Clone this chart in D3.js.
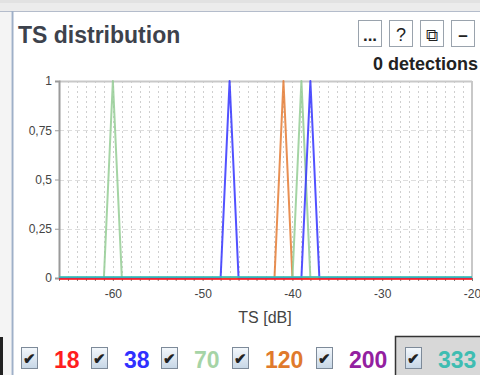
<!DOCTYPE html>
<html>
<head>
<meta charset="utf-8">
<script src="https://cdn.jsdelivr.net/npm/d3@7"></script>
<style>
  html, body { margin: 0; padding: 0; background: #fff; }
  svg { display: block; font-family: "Liberation Sans", Arial, sans-serif; }
</style>
</head>
<body>
<svg id="chart" width="480" height="375"></svg>
<script>
// TS bins (dB), one value per 1 dB step from -66 to -20
const tsBins = [-66,-65,-64,-63,-62,-61,-60,-59,-58,-57,-56,-55,-54,-53,-52,-51,-50,-49,-48,-47,-46,-45,-44,-43,-42,-41,-40,-39,-38,-37,-36,-35,-34,-33,-32,-31,-30,-29,-28,-27,-26,-25,-24,-23,-22,-21,-20];

// normalised distribution per frequency (kHz)
const s18  = [0,0,0,0,0,0,0,0,0,0,0,0,0,0,0,0,0,0,0,0,0,0,0,0,0,0,0,0,0,0,0,0,0,0,0,0,0,0,0,0,0,0,0,0,0,0,0];
const s38  = [0,0,0,0,0,0,0,0,0,0,0,0,0,0,0,0,0,0,0,1,0,0,0,0,0,0,0,0,1,0,0,0,0,0,0,0,0,0,0,0,0,0,0,0,0,0,0];
const s70  = [0,0,0,0,0,0,1,0,0,0,0,0,0,0,0,0,0,0,0,0,0,0,0,0,0,0,0,1,0,0,0,0,0,0,0,0,0,0,0,0,0,0,0,0,0,0,0];
const s120 = [0,0,0,0,0,0,0,0,0,0,0,0,0,0,0,0,0,0,0,0,0,0,0,0,0,1,0,0,0,0,0,0,0,0,0,0,0,0,0,0,0,0,0,0,0,0,0];
const s200 = [0,0,0,0,0,0,0,0,0,0,0,0,0,0,0,0,0,0,0,0,0,0,0,0,0,0,0,0,0,0,0,0,0,0,0,0,0,0,0,0,0,0,0,0,0,0,0];
const s333 = [0,0,0,0,0,0,0,0,0,0,0,0,0,0,0,0,0,0,0,0,0,0,0,0,0,0,0,0,0,0,0,0,0,0,0,0,0,0,0,0,0,0,0,0,0,0,0];

const freqLabels = ["18", "38", "70", "120", "200", "333"];
const yTicks = [0, 0.25, 0.5, 0.75, 1];
const xTicks = [-60, -50, -40, -30, -20];
const title = "TS distribution";
const countLabel = "0 detections";
const xTitle = "TS [dB]";

const seriesColors = ["#ff2020", "#3434ff", "#94cc94", "#e47b34", "#9a1fa0", "#38bfb4"];
const legendColors = ["#ff1e1e", "#3030ff", "#a6d4a6", "#e07a2c", "#9320a0", "#3fbdb2"];
const seriesList = [s18, s38, s70, s120, s200, s333];

const svg = d3.select("#chart");

// window chrome
svg.append("rect").attr("x", 0).attr("y", 0).attr("width", 480).attr("height", 11).attr("fill", "#ececec");
svg.append("rect").attr("x", 0).attr("y", 0).attr("width", 480).attr("height", 3).attr("fill", "#e2e2e2");
svg.append("line").attr("x1", 0).attr("x2", 480).attr("y1", 11.5).attr("y2", 11.5).attr("stroke", "#b4bccb");
svg.append("rect").attr("x", 0).attr("y", 12).attr("width", 11).attr("height", 363).attr("fill", "#f4f4f4");
svg.append("line").attr("x1", 12.5).attr("x2", 12.5).attr("y1", 11).attr("y2", 375).attr("stroke", "#9fb0c8").attr("stroke-width", 2);
svg.append("rect").attr("x", 0).attr("y", 337).attr("width", 3).attr("height", 38).attr("fill", "#222");

// title
svg.append("text").attr("x", 18).attr("y", 43).attr("font-size", 23).attr("font-weight", "bold")
  .attr("fill", "#3d424c").text(title);

// header buttons
const btnLabels = ["...", "?", "\u29C9", "\u2013"];
const btnX = [358, 389, 420, 451];
btnLabels.forEach((b, i) => {
  svg.append("rect").attr("x", btnX[i] + 0.5).attr("y", 20.5).attr("width", 23).attr("height", 26)
    .attr("fill", "#fff").attr("stroke", "#9aa3ad");
  svg.append("text").attr("x", btnX[i] + 12).attr("y", 41).attr("text-anchor", "middle")
    .attr("font-size", i === 1 ? 18 : 17).attr("font-weight", i === 0 || i === 3 ? "bold" : "normal")
    .attr("fill", "#222").text(b);
});

svg.append("text").attr("x", 373).attr("y", 70).attr("font-size", 18).attr("font-weight", "bold")
  .attr("fill", "#222").text(countLabel);

// plot area
const x = d3.scaleLinear().domain([-66, -20]).range([59, 472]);
const y = d3.scaleLinear().domain([0, 1]).range([278, 81]);

const grid = svg.append("g");
grid.selectAll("line.v").data(d3.range(-65, -20)).join("line")
  .attr("x1", d => Math.round(x(d)) + 0.5).attr("x2", d => Math.round(x(d)) + 0.5)
  .attr("y1", y(1)).attr("y2", y(0))
  .attr("stroke", "#cfcfcf").attr("stroke-dasharray", "2,3");
grid.selectAll("line.h").data([0.25, 0.5, 0.75]).join("line")
  .attr("x1", x(-66)).attr("x2", x(-20))
  .attr("y1", d => Math.round(y(d)) + 0.5).attr("y2", d => Math.round(y(d)) + 0.5)
  .attr("stroke", "#dedede").attr("stroke-dasharray", "5,3");

// frame
svg.append("line").attr("x1", x(-66)).attr("x2", x(-20)).attr("y1", y(1) + 0.5).attr("y2", y(1) + 0.5)
  .attr("stroke", "#c8c8c8").attr("stroke-width", 2);
svg.append("line").attr("x1", x(-20)).attr("x2", x(-20)).attr("y1", y(1)).attr("y2", y(0))
  .attr("stroke", "#c8c8c8").attr("stroke-width", 2);

// y axis
const yAxis = d3.axisLeft(y).tickValues(yTicks).tickSize(4).tickPadding(3)
  .tickFormat(d => String(d).replace(".", ","));
const yg = svg.append("g").attr("transform", `translate(${x(-66)},0)`).call(yAxis);
yg.select(".domain").attr("stroke", "#9a9a9a").attr("stroke-width", 2);
yg.selectAll(".tick line").attr("stroke", "#9a9a9a");
yg.selectAll(".tick text").attr("font-size", 12).attr("fill", "#444").attr("font-family", "Liberation Sans, Arial, sans-serif");

// x axis minor ticks every dB
const xMinor = d3.axisBottom(x).tickValues(tsBins).tickSize(3).tickFormat("");
const xm = svg.append("g").attr("transform", `translate(0,${y(0)})`).call(xMinor);
xm.select(".domain").remove();
xm.selectAll(".tick line").attr("stroke", "#777");

const xAxis = d3.axisBottom(x).tickValues(xTicks).tickSize(0).tickPadding(11)
  .tickFormat(d => String(d));
const xg = svg.append("g").attr("transform", `translate(0,${y(0)})`).call(xAxis);
xg.select(".domain").remove();
xg.selectAll(".tick text").attr("font-size", 12).attr("fill", "#444").attr("font-family", "Liberation Sans, Arial, sans-serif");

svg.append("text").attr("x", 265).attr("y", 323).attr("text-anchor", "middle")
  .attr("font-size", 16).attr("fill", "#444").text(xTitle);

// distribution lines
const line = d3.line().x((d, i) => x(tsBins[i])).y(d => y(d));
const drawOrder = [4, 3, 2, 1, 0, 5];
const baseShift = [1, 0, 0, 0, 0, -1];
drawOrder.forEach(k => {
  svg.append("path").datum(seriesList[k])
    .attr("d", line)
    .attr("transform", `translate(0,${baseShift[k]})`)
    .attr("fill", "none")
    .attr("stroke", seriesColors[k])
    .attr("stroke-width", 2)
    .attr("stroke-opacity", 0.85)
    .attr("stroke-linejoin", "round");
});

// legend
const legX = [21, 91, 161, 232, 316, 405];
svg.append("rect").attr("x", 395.5).attr("y", 336.5).attr("width", 90).attr("height", 45)
  .attr("fill", "#d8d8d8").attr("stroke", "#333").attr("stroke-width", 1.5);
const grad = svg.append("defs").append("linearGradient").attr("id", "cb").attr("x1", 0).attr("y1", 0).attr("x2", 0).attr("y2", 1);
grad.append("stop").attr("offset", 0).attr("stop-color", "#f4f8fc");
grad.append("stop").attr("offset", 1).attr("stop-color", "#c6d6e6");
freqLabels.forEach((lab, i) => {
  svg.append("rect").attr("x", legX[i] + 0.5).attr("y", 347.5).attr("width", 16).attr("height", 21)
    .attr("fill", "url(#cb)").attr("stroke", "#7d8a99");
  svg.append("text").attr("x", legX[i] + 8.5).attr("y", 364).attr("text-anchor", "middle")
    .attr("font-size", 15).attr("font-weight", "bold").attr("fill", "#222").text("\u2714");
  svg.append("text").attr("x", legX[i] + 33).attr("y", 368)
    .attr("font-size", 23).attr("font-weight", "bold").attr("fill", legendColors[i]).text(lab);
});
</script>
</body>
</html>
